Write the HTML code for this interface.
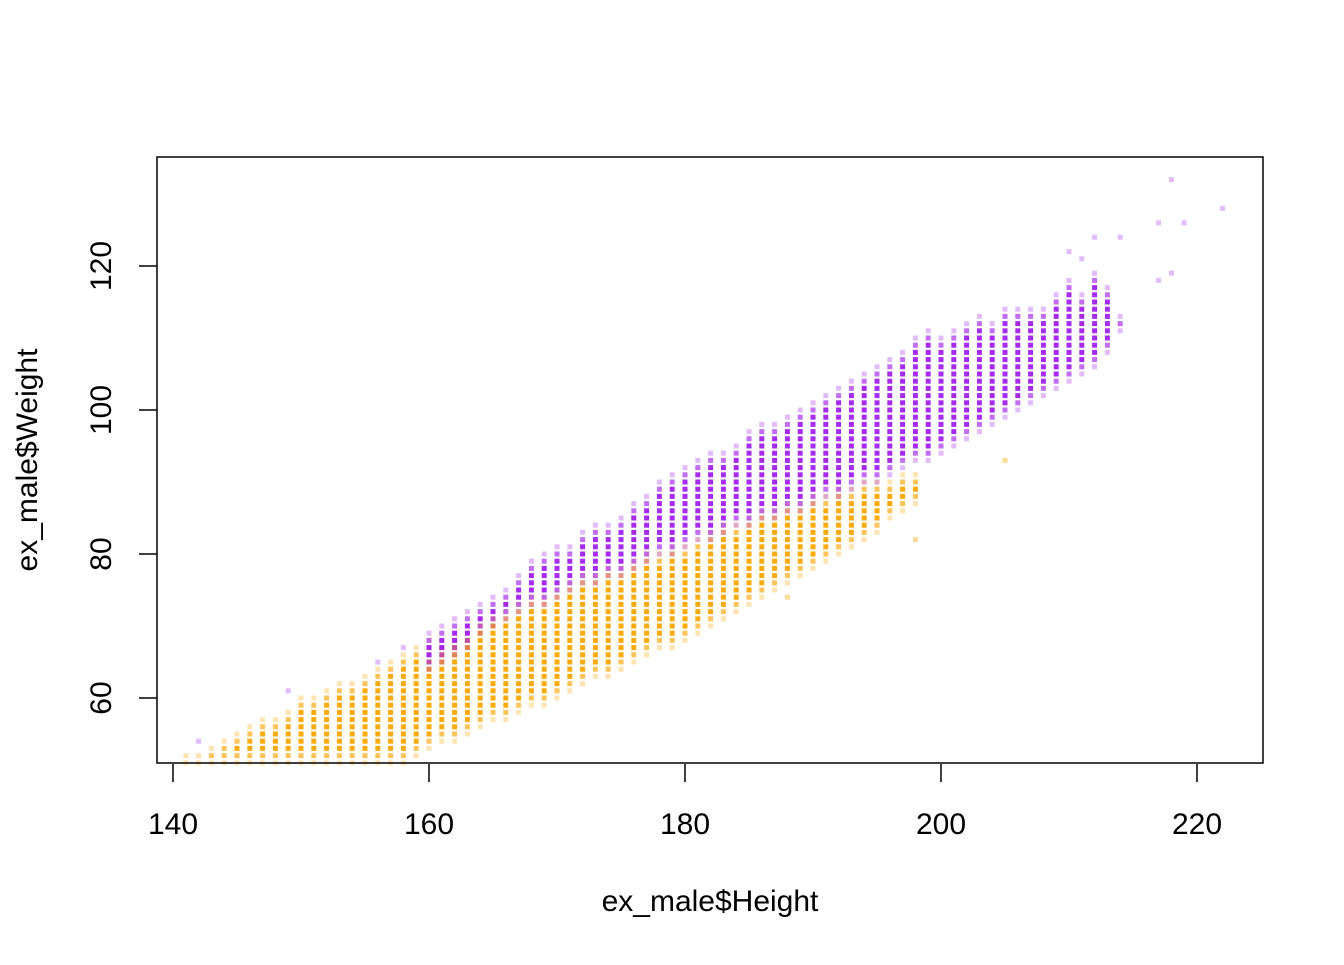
<!DOCTYPE html>
<html><head><meta charset="utf-8"><style>
body{margin:0;background:#fff}
svg text{font-family:"Liberation Sans",Arial,sans-serif;fill:#000}
</style></head><body>
<svg id="chart" width="1344" height="960" xmlns="http://www.w3.org/2000/svg">
<g id="points"></g>
<rect x="157" y="157" width="1106" height="606" fill="none" stroke="#000" stroke-width="1.5"/>
<g id="axes"></g>
<text x="710" y="911" font-size="30" text-anchor="middle">ex_male$Height</text>
<text transform="translate(37,460) rotate(-90)" font-size="30" text-anchor="middle">ex_male$Weight</text>
</svg>
<script>
const xTicks=[140,160,180,200,220];
const yTicks=[60,80,100,120];
const orangeStart=141;
const orangeLo=[51,51,51,51,51,51,51,51,51,51,51,51,51,51,51,51,51,51,52,53,54,54,55,56,57,57,58,59,59,60,61,62,63,63,64,65,66,67,67,68,69,70,71,72,73,74,75,76,77,78,79,80,81,82,83,85,86,87];
const orangeHi=[52,52,53,54,55,56,57,57,58,60,60,61,62,62,63,64,65,66,67,68,68,69,70,71,72,72,73,74,74,75,76,77,77,78,78,79,80,80,81,81,82,83,84,84,85,86,86,87,87,88,88,89,89,90,90,90,91,91];
const purpleStart=160;
const purpleLo=[64,65,66,67,69,70,71,72,73,73,74,75,76,76,77,77,78,79,80,80,81,82,82,83,84,84,85,85,86,86,87,88,88,89,90,90,91,92,93,93,94,95,96,97,98,99,100,101,102,103,104,105,106,108,111];
const purpleHi=[69,70,71,72,73,74,75,77,79,80,81,81,83,84,84,85,87,88,90,91,92,93,94,94,95,97,98,98,99,100,101,102,103,104,105,106,107,108,110,111,110,111,112,113,112,114,114,114,114,116,118,116,119,117,113];
const extraH=[142,149,217,218,219,222,217,218,212,214,210,211,156,158];
const extraW=[54,61,126,132,126,128,118,119,124,124,122,121,65,67];
const extraOrangeH=[198,205,196,188];
const extraOrangeW=[82,93,87,74];

const X=h=>173+(h-140)*12.8;
const Y=w=>698-(w-60)*7.2;
const NS="http://www.w3.org/2000/svg";
const pts=document.getElementById('points');
function dot(h,w,color,op){
  const y=Y(w); if(y>764||y<158) return;
  const r=document.createElementNS(NS,'rect');
  r.setAttribute('x',X(h)-2.5);r.setAttribute('y',y-2.5);
  r.setAttribute('width',5);r.setAttribute('height',5);
  r.setAttribute('fill',color);r.setAttribute('fill-opacity',op);
  
  
  pts.appendChild(r);
}
function column(h,lo,hi,color){
  for(let w=lo;w<=hi;w++){
    const edge=Math.min(w-lo,hi-w);
    dot(h,w,color,edge<1?0.3:(edge<2?0.65:0.95));
  }
}
orangeLo.forEach((lo,i)=>column(orangeStart+i,lo,orangeHi[i],'#FFA500'));
purpleLo.forEach((lo,i)=>column(purpleStart+i,lo,purpleHi[i],'#A020F0'));
extraH.forEach((h,i)=>dot(h,extraW[i],'#A020F0',0.3));
extraOrangeH.forEach((h,i)=>dot(h,extraOrangeW[i],'#FFA500',0.4));

const ax=document.getElementById('axes');
function line(x1,y1,x2,y2,name){
  const l=document.createElementNS(NS,'line');
  l.setAttribute('x1',x1);l.setAttribute('y1',y1);l.setAttribute('x2',x2);l.setAttribute('y2',y2);
  l.setAttribute('stroke','#000');l.setAttribute('stroke-width','1.5');
  
  
  ax.appendChild(l);
}
function txt(s,x,y,tr,name){
  const t=document.createElementNS(NS,'text');
  t.textContent=s;t.setAttribute('font-size','30');t.setAttribute('text-anchor','middle');
  if(tr) t.setAttribute('transform',tr); else {t.setAttribute('x',x);t.setAttribute('y',y);}
  
  
  ax.appendChild(t);
}
xTicks.forEach(v=>{line(X(v),764,X(v),782,'x-tick');txt(v,X(v),834,null,'x-tick-label');});
yTicks.forEach(v=>{line(139,Y(v),157,Y(v),'y-tick');txt(v,0,0,`translate(111,${Y(v)}) rotate(-90)`,'y-tick-label');});
</script>
</body></html>
